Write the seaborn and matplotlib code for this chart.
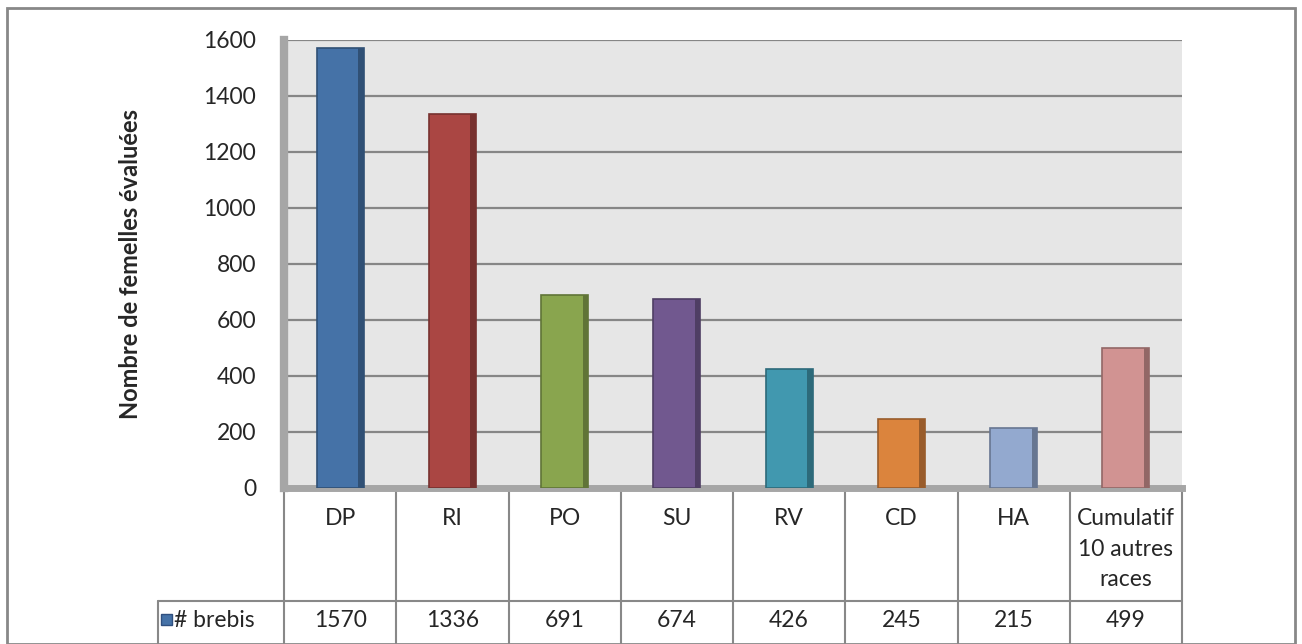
import matplotlib.pyplot as plt
import matplotlib.colors as mcolors
from matplotlib.patches import Rectangle
import matplotlib.transforms as mtransforms
import seaborn as sns

# Data
categories = ['DP', 'RI', 'PO', 'SU', 'RV', 'CD', 'HA', 'Cumulatif\n10 autres\nraces']
values = [1570, 1336, 691, 674, 426, 245, 215, 499]
colors = ['#4572A7', '#AA4643', '#89A54E', '#71588F', '#4198AF', '#DB843D', '#93A9CF', '#D19392']
series_name = '# brebis'
y_ticks = [0, 200, 400, 600, 800, 1000, 1200, 1400, 1600]

sns.set_style('white')
plt.rcParams['font.family'] = ['Lato', 'DejaVu Sans']
FS = 16.5

fig = plt.figure(figsize=(13.02, 6.44), dpi=100)
ax = fig.add_axes([284 / 1302, 156 / 644, 898 / 1302, 448 / 644])

# Outer chart border
fig.patches.append(Rectangle((7 / 1302, 0), 1288 / 1302, 636 / 644, transform=fig.transFigure,
                             fill=False, edgecolor='#888888', lw=2))

ax.set_facecolor('#e6e6e6')
pos = list(range(len(categories)))
sns.barplot(x=pos, y=values, hue=pos, palette=colors, legend=False, width=0.42,
            ax=ax, zorder=3, saturation=1)

# pseudo 3D: darker edge and side face
for p, c in zip(ax.patches, colors):
    dark = tuple(v * 0.7 for v in mcolors.to_rgb(c))
    p.set_edgecolor(dark)
    p.set_linewidth(1.2)
    w = p.get_width()
    ax.add_patch(Rectangle((p.get_x() + w * 0.88, 0), w * 0.12, p.get_height(),
                           facecolor=dark, edgecolor='none', zorder=4))

ax.set_xlim(-0.5, len(categories) - 0.5)
ax.set_ylim(0, 1600)
ax.set_yticks(y_ticks)
ax.set_yticklabels([str(t) for t in y_ticks], fontsize=FS)
ax.tick_params(axis='y', length=0, pad=20)
ax.set_xticks([])
ax.grid(axis='y', color='#868686', lw=1.6, zorder=1)
ax.set_axisbelow(True)

for s in ['top', 'right']:
    ax.spines[s].set_visible(False)
ax.spines['left'].set_color('#a6a6a6')
ax.spines['left'].set_linewidth(6)
ax.spines['bottom'].set_color('#a6a6a6')
ax.spines['bottom'].set_linewidth(5)

ax.set_ylabel('Nombre de femelles évaluées', fontsize=17, fontweight='bold', labelpad=44)

# Data table under the axis
trans = mtransforms.blended_transform_factory(ax.transData, ax.transAxes)
unit = 898 / len(categories)
legend_left = -0.5 - 126 / unit
top_y = -0.005
mid_y = -(601 - 488) / 448
bot_y = -(660 - 488) / 448
line_kw = dict(color='#888888', lw=1.5, transform=trans, clip_on=False)
for i in range(len(categories) + 1):
    ax.plot([i - 0.5, i - 0.5], [top_y, bot_y], **line_kw)
ax.plot([-0.5, len(categories) - 0.5], [top_y, top_y], **line_kw)
ax.plot([legend_left, len(categories) - 0.5], [mid_y, mid_y], **line_kw)
ax.plot([legend_left, legend_left], [mid_y, bot_y], **line_kw)

for i, (cat, val) in enumerate(zip(categories, values)):
    ax.text(i, -0.045, cat, transform=trans, ha='center', va='top', fontsize=FS,
            linespacing=1.55, clip_on=False)
    ax.text(i, -0.295, str(val), transform=trans, ha='center', va='center', fontsize=FS,
            clip_on=False)

# legend key
key_x = legend_left + 3 / unit
ax.add_patch(Rectangle((key_x, -0.306), 11 / unit, 0.025, transform=trans, clip_on=False,
                       facecolor=colors[0], edgecolor='#2f4f7f', lw=1))
ax.text(key_x + 13 / unit, -0.295, series_name, transform=trans, ha='left', va='center',
        fontsize=FS, clip_on=False)

plt.savefig('out.png', dpi=100)
